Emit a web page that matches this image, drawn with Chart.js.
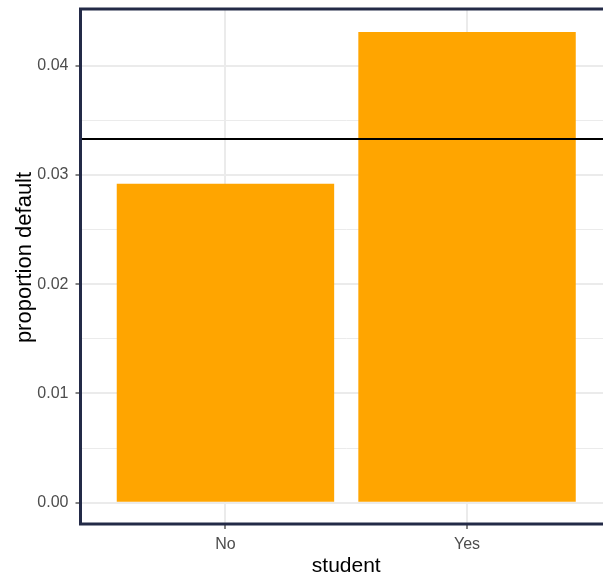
<!DOCTYPE html>
<html>
<head>
<meta charset="utf-8">
<script src="https://cdn.jsdelivr.net/npm/chart.js@4/dist/chart.umd.min.js"></script>
<style>
  html, body { margin: 0; padding: 0; overflow: hidden; background: #ffffff; }
  canvas { display: block; }
</style>
</head>
<body>
<canvas id="c" width="621" height="582" style="width:621px;height:582px"></canvas>
<script>
// ---- data ----
const categories = ['No', 'Yes'];
const proportionDefault = [0.0292, 0.0431];
const overallRate = [0.0333];
const yTickValues = [0, 0.01, 0.02, 0.03, 0.04];
const yTickLabels = ['0.00', '0.01', '0.02', '0.03', '0.04'];
const yLimits = [-0.00195, 0.0452];
const xTitle = 'student';
const yTitle = 'proportion default';

// ---- derived ----
const yMinors = yTickValues.slice(0, -1).map((v, i) => (v + yTickValues[i + 1]) / 2);
const yAllTicks = [...yTickValues, ...yMinors].sort((a, b) => a - b);
const isMajor = v => yTickValues.some(m => Math.abs(m - v) < 1e-9);

const FONT = '"Liberation Sans", Arial, Helvetica, sans-serif';

const panelDecor = {
  id: 'panelDecor',
  afterDatasetsDraw(chart) {
    const { ctx, chartArea: a, scales: { y } } = chart;
    ctx.save();
    ctx.beginPath();
    const py = y.getPixelForValue(overallRate[0]);
    ctx.moveTo(a.left, py);
    ctx.lineTo(a.right, py);
    ctx.lineWidth = 1.8;
    ctx.strokeStyle = '#000000';
    ctx.stroke();
    ctx.restore();
  },
  afterDraw(chart) {
    const { ctx, chartArea: a } = chart;
    ctx.save();
    ctx.lineWidth = 3;
    ctx.strokeStyle = '#232a47';
    ctx.strokeRect(a.left, a.top, a.right - a.left, a.bottom - a.top);
    // y-axis title
    ctx.translate(30.5, 257.5);
    ctx.rotate(-Math.PI / 2);
    ctx.font = '22px ' + FONT;
    ctx.fillStyle = '#000000';
    ctx.textAlign = 'center';
    ctx.textBaseline = 'alphabetic';
    ctx.fillText(yTitle, 0, 0);
    ctx.restore();
  }
};

new Chart(document.getElementById('c'), {
  type: 'bar',
  data: {
    datasets: [{
      data: categories.map((c, i) => ({ x: i + 1, y: proportionDefault[i] })),
      backgroundColor: '#FFA500',
      borderWidth: 0,
      categoryPercentage: 1,
      barPercentage: 0.9
    }]
  },
  options: {
    responsive: false,
    animation: false,
    events: [],
    layout: { padding: { left: 0, top: 9, right: 9, bottom: 0 } },
    plugins: { legend: { display: false }, tooltip: { enabled: false } },
    scales: {
      x: {
        type: 'linear',
        offset: false,
        min: 0.4,
        max: categories.length + 0.6,
        afterBuildTicks: s => { s.ticks = categories.map((c, i) => ({ value: i + 1 })); },
        afterFit: s => { s.height = 58; s.paddingLeft = 0; s.paddingRight = 0; },
        ticks: {
          callback: v => categories[Math.round(v) - 1] || '',
          color: '#4D4D4D',
          font: { family: FONT, size: 16 },
          padding: 5.5,
          autoSkip: false,
          maxRotation: 0
        },
        grid: {
          offset: false,
          color: '#EBEBEB',
          lineWidth: 2,
          tickColor: '#333333',
          tickWidth: 1.2,
          tickLength: 5,
          drawTicks: true
        },
        border: { display: false },
        title: {
          display: true,
          text: xTitle,
          color: '#000000',
          font: { family: FONT, size: 21 },
          padding: { top: 0, bottom: 3 }
        }
      },
      y: {
        type: 'linear',
        min: yLimits[0],
        max: yLimits[1],
        afterBuildTicks: s => { s.ticks = yAllTicks.map(v => ({ value: v })); },
        afterFit: s => { s.width = 80.5; s.paddingTop = 0; s.paddingBottom = 0; },
        ticks: {
          callback: v => {
            const i = yTickValues.findIndex(m => Math.abs(m - v) < 1e-9);
            return i >= 0 ? yTickLabels[i] : '';
          },
          color: '#4D4D4D',
          font: { family: FONT, size: 16 },
          padding: 7,
          autoSkip: false
        },
        grid: {
          color: '#EBEBEB',
          lineWidth: c => (c.tick && isMajor(c.tick.value)) ? 2 : 1,
          tickColor: c => (c.tick && isMajor(c.tick.value)) ? '#333333' : 'rgba(0,0,0,0)',
          tickWidth: 1.2,
          tickLength: 5,
          drawTicks: true
        },
        border: { display: false },
        title: { display: false }
      }
    }
  },
  plugins: [panelDecor]
});
</script>
</body>
</html>
